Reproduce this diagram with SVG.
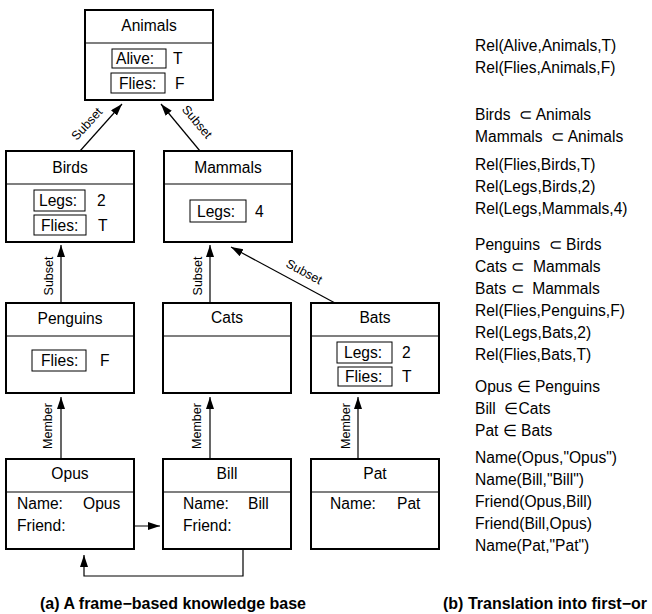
<svg xmlns="http://www.w3.org/2000/svg" width="652" height="614" viewBox="0 0 652 614">
<style>
text{font-family:"Liberation Sans",Arial,Helvetica,sans-serif;font-size:15.6px;fill:#000}
.frame{fill:#fff;stroke:#000;stroke-width:2}
.div{stroke:#000;stroke-width:1.2}
.slot{fill:none;stroke:#000;stroke-width:1}
.t{text-anchor:middle}
.lbl{font-size:12.5px;text-anchor:middle}
.cap{font-weight:bold;font-size:16px}
.conn{fill:none;stroke:#000;stroke-width:1.2}
#fol text{white-space:pre}
</style>
<defs>
<marker id="ah" markerUnits="userSpaceOnUse" markerWidth="13" markerHeight="9" refX="12" refY="4" orient="auto">
<path d="M0,0 L12,4 L0,8 z" fill="#000"/>
</marker>
</defs>
<rect width="652" height="614" fill="#fff"/>

<g id="connectors">
<line class="conn" x1="80" y1="151" x2="122" y2="104" marker-end="url(#ah)"/>
<line class="conn" x1="200" y1="151" x2="161" y2="104" marker-end="url(#ah)"/>
<line class="conn" x1="61" y1="303" x2="61" y2="245" marker-end="url(#ah)"/>
<line class="conn" x1="210" y1="303" x2="210" y2="245" marker-end="url(#ah)"/>
<line class="conn" x1="335" y1="303" x2="231" y2="247" marker-end="url(#ah)"/>
<line class="conn" x1="61" y1="459" x2="61" y2="397" marker-end="url(#ah)"/>
<line class="conn" x1="210" y1="459" x2="210" y2="397" marker-end="url(#ah)"/>
<line class="conn" x1="358" y1="459" x2="358" y2="397" marker-end="url(#ah)"/>
<line class="conn" x1="94" y1="526" x2="160" y2="526" marker-end="url(#ah)"/>
<polyline class="conn" points="243,523 243,576 84,576 84,555" marker-end="url(#ah)"/>
<text class="lbl" transform="translate(87,124) rotate(-47.6)" y="4">Subset</text>
<text class="lbl" transform="translate(197,122) rotate(49.7)" y="4">Subset</text>
<text class="lbl" transform="translate(48,276) rotate(-90)" y="4.5">Subset</text>
<text class="lbl" transform="translate(197,276) rotate(-90)" y="4.5">Subset</text>
<text class="lbl" transform="translate(304,272) rotate(28.3)" y="4">Subset</text>
<text class="lbl" transform="translate(47,426) rotate(-90)" y="4.5">Member</text>
<text class="lbl" transform="translate(196,426) rotate(-90)" y="4.5">Member</text>
<text class="lbl" transform="translate(345,426) rotate(-90)" y="4.5">Member</text>
</g>

<g id="animals">
<rect class="frame" x="85" y="10" width="128" height="90"/>
<line class="div" x1="85" y1="43" x2="213" y2="43"/>
<text class="t" x="149" y="31">Animals</text>
<rect class="slot" x="112" y="49" width="54" height="19"/>
<text x="116" y="64">Alive:</text>
<text x="173" y="64">T</text>
<rect class="slot" x="111" y="73" width="54" height="20"/>
<text x="119" y="89">Flies:</text>
<text x="175" y="89">F</text>
</g>

<g id="birds">
<rect class="frame" x="6" y="151" width="128" height="91"/>
<line class="div" x1="6" y1="184" x2="134" y2="184"/>
<text class="t" x="70" y="173">Birds</text>
<rect class="slot" x="34" y="190" width="51" height="21"/>
<text x="39" y="206">Legs:</text>
<text x="97" y="206">2</text>
<rect class="slot" x="34" y="215" width="52" height="20"/>
<text x="41" y="231">Flies:</text>
<text x="98" y="231">T</text>
</g>

<g id="mammals">
<rect class="frame" x="164" y="151" width="128" height="91"/>
<line class="div" x1="164" y1="184" x2="292" y2="184"/>
<text class="t" x="228" y="173">Mammals</text>
<rect class="slot" x="190" y="200" width="56" height="22"/>
<text x="197" y="217">Legs:</text>
<text x="255" y="217">4</text>
</g>

<g id="penguins">
<rect class="frame" x="6" y="303" width="128" height="90"/>
<line class="div" x1="6" y1="336" x2="134" y2="336"/>
<text class="t" x="70" y="324">Penguins</text>
<rect class="slot" x="32" y="350" width="54" height="21"/>
<text x="41" y="366">Flies:</text>
<text x="100" y="366">F</text>
</g>

<g id="cats">
<rect class="frame" x="163" y="303" width="128" height="90"/>
<line class="div" x1="163" y1="336" x2="291" y2="336"/>
<text class="t" x="227" y="323">Cats</text>
</g>

<g id="bats">
<rect class="frame" x="311" y="303" width="128" height="90"/>
<line class="div" x1="311" y1="336" x2="439" y2="336"/>
<text class="t" x="375" y="323">Bats</text>
<rect class="slot" x="337" y="342" width="55" height="21"/>
<text x="344" y="358">Legs:</text>
<text x="402" y="358">2</text>
<rect class="slot" x="338" y="367" width="54" height="19"/>
<text x="345" y="382">Flies:</text>
<text x="402" y="382">T</text>
</g>

<g id="opus">
<rect class="frame" x="6" y="459" width="128" height="90"/>
<line class="div" x1="6" y1="492" x2="134" y2="492"/>
<text class="t" x="70" y="479">Opus</text>
<text x="17" y="509">Name:</text>
<text x="83" y="509">Opus</text>
<text x="17" y="531">Friend:</text>
</g>

<g id="bill">
<rect class="frame" x="163" y="459" width="128" height="90"/>
<line class="div" x1="163" y1="492" x2="291" y2="492"/>
<text class="t" x="227" y="479">Bill</text>
<text x="183" y="509">Name:</text>
<text x="248" y="509">Bill</text>
<text x="183" y="531">Friend:</text>
</g>

<g id="pat">
<rect class="frame" x="311" y="459" width="128" height="90"/>
<line class="div" x1="311" y1="492" x2="439" y2="492"/>
<text class="t" x="375" y="479">Pat</text>
<text x="330" y="509">Name:</text>
<text x="397" y="509">Pat</text>
</g>

<g id="fol">
<text x="475" y="51">Rel(Alive,Animals,T)</text>
<text x="475" y="73">Rel(Flies,Animals,F)</text>
<text x="475" y="120">Birds  ⊂ Animals</text>
<text x="475" y="142">Mammals  ⊂ Animals</text>
<text x="475" y="170">Rel(Flies,Birds,T)</text>
<text x="475" y="192">Rel(Legs,Birds,2)</text>
<text x="475" y="214">Rel(Legs,Mammals,4)</text>
<text x="475" y="250">Penguins  ⊂ Birds</text>
<text x="475" y="272">Cats ⊂  Mammals</text>
<text x="475" y="294">Bats ⊂  Mammals</text>
<text x="475" y="316">Rel(Flies,Penguins,F)</text>
<text x="475" y="338">Rel(Legs,Bats,2)</text>
<text x="475" y="360">Rel(Flies,Bats,T)</text>
<text x="475" y="392">Opus ∈ Penguins</text>
<text x="475" y="414">Bill  ∈Cats</text>
<text x="475" y="436">Pat ∈ Bats</text>
<text x="475" y="463">Name(Opus,"Opus")</text>
<text x="475" y="485">Name(Bill,"Bill")</text>
<text x="475" y="507">Friend(Opus,Bill)</text>
<text x="475" y="529">Friend(Bill,Opus)</text>
<text x="475" y="551">Name(Pat,"Pat")</text>
</g>

<g id="captions">
<text class="cap" x="40" y="609">(a) A frame−based knowledge base</text>
<text class="cap" x="443" y="609">(b) Translation into first−or</text>
</g>
</svg>
